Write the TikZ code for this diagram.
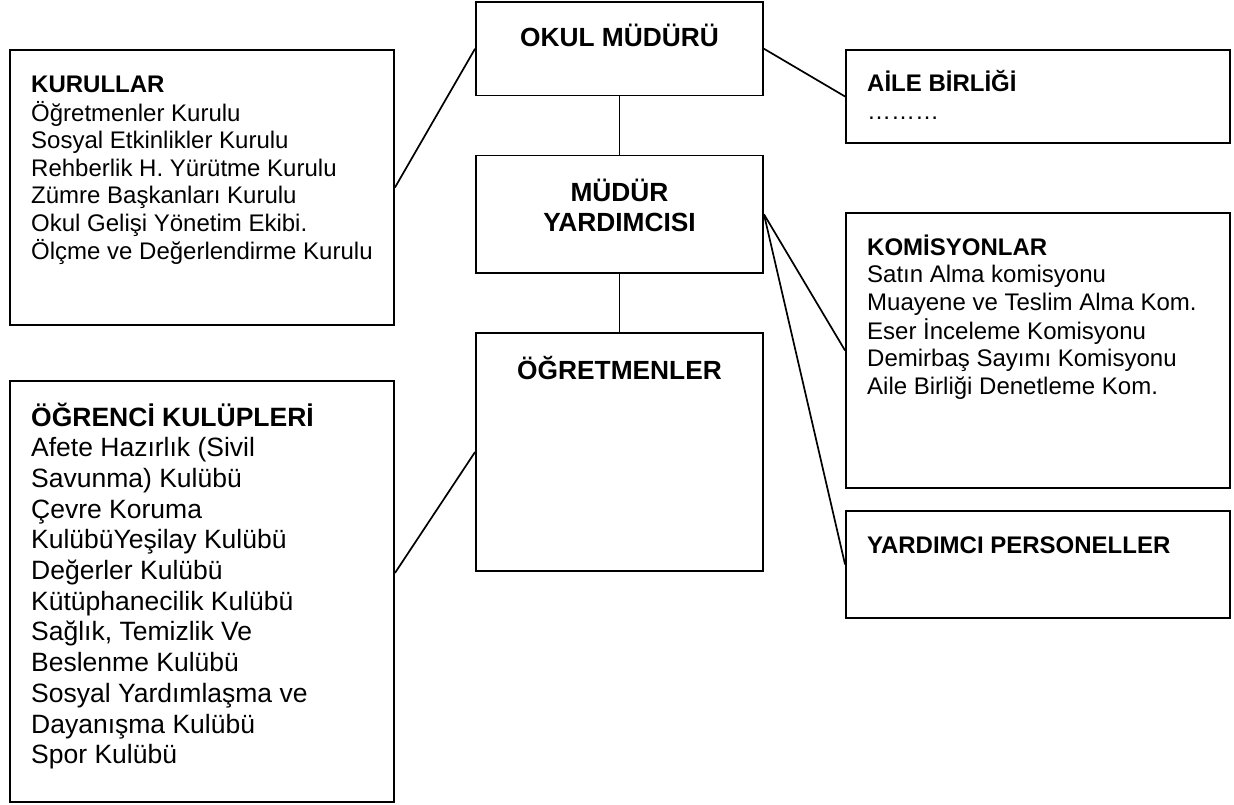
\documentclass[tikz,border=0pt]{standalone}
\usepackage{fontspec}
\setmainfont{Liberation Sans}
\newcommand{\lcol}[1]{\begin{tabular}[t]{@{}l@{}}#1\end{tabular}}
\newcommand{\ccol}[1]{\begin{tabular}[t]{@{}c@{}}#1\end{tabular}}
\begin{document}
\begin{tikzpicture}[x=1pt,y=-1pt,
  box/.style={draw,line width=1.9pt,inner sep=0pt,rectangle},
  conn/.style={line width=1.7pt},
  body/.style={inner sep=0pt,anchor=base west,font=\fontsize{24}{27.5}\selectfont},
  bigbody/.style={inner sep=0pt,anchor=base west,font=\fontsize{26.5}{30.7}\selectfont},
  ctitle/.style={inner sep=0pt,anchor=base,font=\fontsize{26.3}{29.3}\selectfont\bfseries}]
\useasboundingbox (0,0) rectangle (1234,805);
% boxes
\node[box,minimum width=384pt,minimum height=275pt] (kur) at (202,187.5) {};
\node[box,minimum width=287pt,minimum height=93.5pt] (okul) at (619.5,48.75) {};
\node[box,minimum width=287pt,minimum height=117.5pt] (myrd) at (619.5,214.25) {};
\node[box,minimum width=287pt,minimum height=238pt] (ogrt) at (619.5,452) {};
\node[box,minimum width=384pt,minimum height=93pt] (aile) at (1038,96.5) {};
\node[box,minimum width=384pt,minimum height=275pt] (kom) at (1038,350.5) {};
\node[box,minimum width=384pt,minimum height=107pt] (yp) at (1038,564.5) {};
\node[box,minimum width=384pt,minimum height=421pt] (ogrn) at (202,591.5) {};
% texts
\node[ctitle] (okult) at (619.5,47) {OKUL MÜDÜRÜ};
\node[ctitle] (myrdt) at (619.5,202) {\ccol{MÜDÜR\\YARDIMCISI}};
\node[ctitle] (ogrtt) at (619.5,379) {ÖĞRETMENLER};
\node[body] (kurt) at (31,93) {\lcol{\textbf{KURULLAR}\\Öğretmenler Kurulu\\Sosyal Etkinlikler Kurulu\\Rehberlik H. Yürütme Kurulu\\Zümre Başkanları Kurulu\\Okul Gelişi Yönetim Ekibi.\\Ölçme ve Değerlendirme Kurulu}};
\node[body] (ailet) at (867,92) {\lcol{\textbf{AİLE BİRLİĞİ}\\………}};
\node[body] (komt) at (867,255) {\lcol{\textbf{KOMİSYONLAR}\\Satın Alma komisyonu\\Muayene ve Teslim Alma Kom.\\Eser İnceleme Komisyonu\\Demirbaş Sayımı Komisyonu\\Aile Birliği Denetleme Kom.}};
\node[body] (ypt) at (867,553) {\textbf{YARDIMCI PERSONELLER}};
\node[bigbody] (ogrnt) at (31,426) {\lcol{\textbf{ÖĞRENCİ KULÜPLERİ}\\Afete Hazırlık (Sivil\\Savunma) Kulübü\\Çevre Koruma\\KulübüYeşilay Kulübü\\Değerler Kulübü\\Kütüphanecilik Kulübü\\Sağlık, Temizlik Ve\\Beslenme Kulübü\\Sosyal Yardımlaşma ve\\Dayanışma Kulübü\\Spor Kulübü}};
% connectors
\coordinate (ogrnin) at ([yshift=18.5pt]ogrn.east);
\draw[conn] (okul.west) -- (kur.east);
\draw[conn] (okul.east) -- (aile.west);
\draw[conn] (okul.south) -- (myrd.north);
\draw[conn] (myrd.south) -- (ogrt.north);
\draw[conn] (myrd.east) -- (kom.west);
\draw[conn] (myrd.east) -- (yp.west);
\draw[conn] (ogrt.west) -- (ogrnin);
\end{tikzpicture}
\end{document}
